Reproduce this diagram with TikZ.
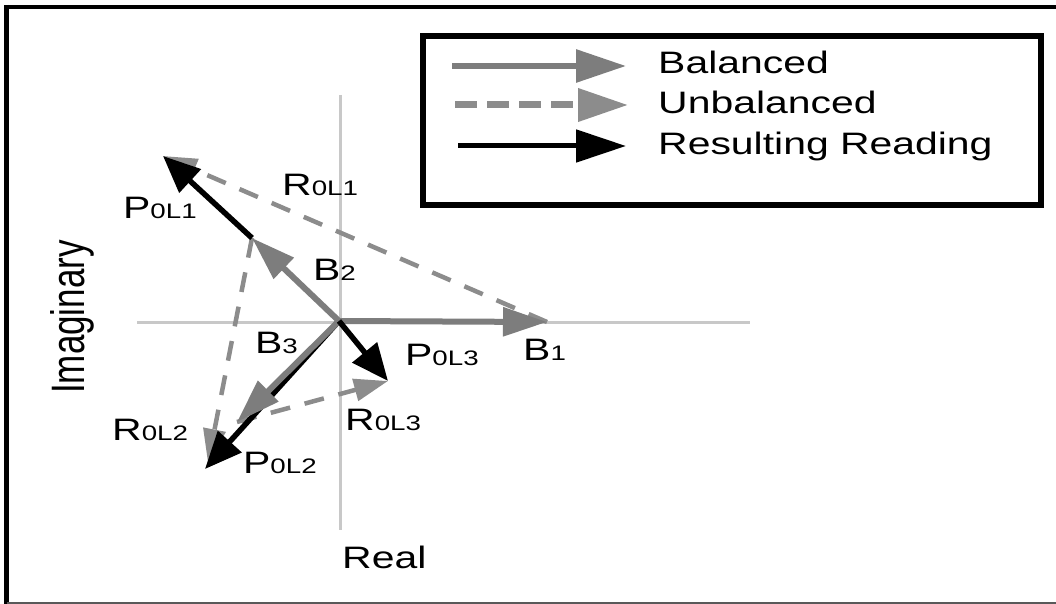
\documentclass[tikz,border=0pt]{standalone}
\usepackage{fontspec}
\setmainfont{Liberation Sans}[FakeStretch=1.32]
\newfontfamily\plainsans{Liberation Sans}
\usetikzlibrary{arrows.meta}
\definecolor{balgray}{RGB}{125,125,125}
\definecolor{unbgray}{RGB}{140,140,140}
\definecolor{axisgray}{RGB}{200,200,200}
\newcommand\idx[1]{{\fontsize{21}{21}\selectfont #1}}

\begin{document}
\begin{tikzpicture}[x=1pt,y=-1pt,
  axis/.style={axisgray, line width=3pt},
  bal/.style={balgray, line width=6pt, -{Triangle[length=44pt,width=28pt]}},
  unb/.style={unbgray, line width=4.5pt, dash pattern=on 20pt off 15pt, -{Triangle[length=34pt,width=22pt]}},
  res/.style={black, line width=5.5pt, -{Triangle[length=37pt,width=31pt]}},
  legbal/.style={balgray, line width=6pt, -{Triangle[length=50pt,width=32pt]}},
  legunb/.style={unbgray, line width=7pt, dash pattern=on 22pt off 10pt, -{Triangle[length=50pt,width=32pt]}},
  legres/.style={black, line width=5pt, -{Triangle[length=50pt,width=32pt]}},
  lbl/.style={inner sep=0pt, anchor=base west, font=\fontsize{31}{31}\selectfont},
]
\useasboundingbox (0,0) rectangle (1056,604);
\fill[white] (0,0) rectangle (1056,604);

% frame
\draw[line width=4pt] (4,7) -- (1056,7);
\draw[line width=5pt] (6.5,5) -- (6.5,604);
\draw[gray!70!black, line width=2pt] (6.5,603) -- (1056,603);

% axes
\coordinate (ytop) at (340,95);
\coordinate (ybot) at (340,530);
\coordinate (xl) at (137,322);
\coordinate (xr) at (750,322);
\draw[axis] (ytop) -- (ybot);
\draw[axis] (xl) -- (xr);

% phasor end points
\coordinate (O) at (339,321);
\coordinate (B1) at (547,322);
\coordinate (B2) at (252,238);
\coordinate (B3) at (237,422);
\coordinate (P1) at (163,156);
\coordinate (P2) at (205,469);
\coordinate (P3) at (388,381);
\coordinate (R2) at (208,463);

% unbalanced components
\draw[unb] (B1) -- (P1);
\draw[unb] (B2) -- (R2);
\draw[unb] (B3) -- (P3);

% resulting reading under B3
\draw[res] (O) -- (P2);

% balanced phasors
\draw[bal] (O) -- (B1);
\draw[bal] (O) -- (B2);
\draw[bal] (O) -- (B3);

% remaining resulting readings
\draw[res] (B2) -- (P1);
\draw[res] (O) -- (P3);

% labels
\node[lbl] (lP1) at (123,218) {P\idx{0L1}};
\node[lbl] (lR1) at (282,195) {R\idx{0L1}};
\node[lbl] (lB2) at (313,280) {B\idx{2}};
\node[lbl] (lB3) at (255,353) {B\idx{3}};
\node[lbl] (lP3) at (405,365) {P\idx{0L3}};
\node[lbl] (lB1) at (523,360) {B\idx{1}};
\node[lbl] (lR2) at (112,440) {R\idx{0L2}};
\node[lbl] (lP2) at (243,473) {P\idx{0L2}};
\node[lbl] (lR3) at (345,430) {R\idx{0L3}};
\node[lbl] (lreal) at (342,568) {Real};
\node[rotate=90, inner sep=0pt] (limag) at (72,317)
  {\plainsans\fontsize{35}{35}\selectfont\scalebox{1}[1.34]{Imaginary}};

% legend
\node[draw, line width=6pt, minimum width=618pt, minimum height=169pt,
  inner sep=0pt, anchor=north west] (legend) at (420,33) {};
\coordinate (la1) at (452,66);  \coordinate (lb1) at (626,66);
\coordinate (la2) at (455,105); \coordinate (lb2) at (628,105);
\coordinate (la3) at (458,146); \coordinate (lb3) at (626,146);
\draw[legbal] (la1) -- (lb1);
\draw[legunb] (la2) -- (lb2);
\draw[legres] (la3) -- (lb3);
\node[lbl] (tBal) at (658,74) {Balanced};
\node[lbl] (tUnb) at (658,114) {Unbalanced};
\node[lbl] (tRes) at (658,154) {Resulting Reading};
\end{tikzpicture}
\end{document}
